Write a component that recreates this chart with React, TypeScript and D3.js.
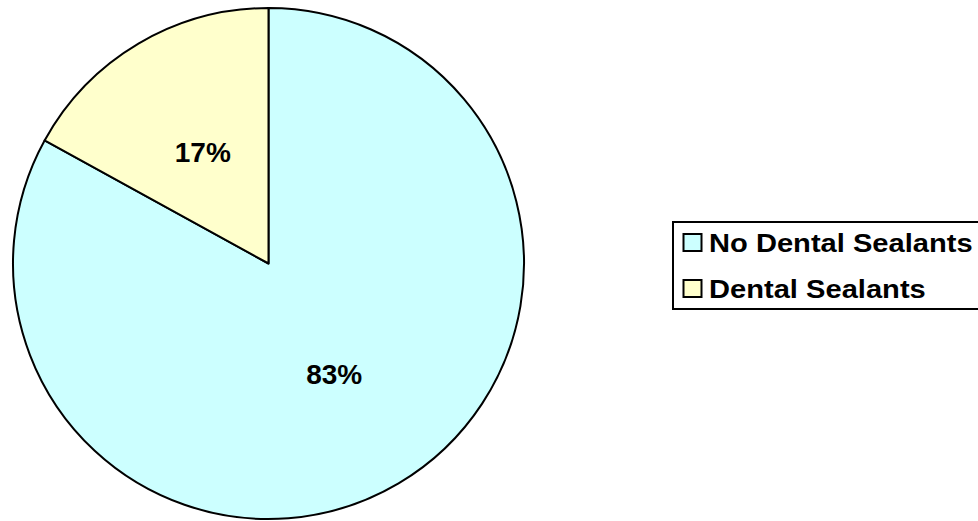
import React from "react";
import * as d3 from "d3";

const categories = ["No Dental Sealants", "Dental Sealants"];
const values = [83, 17];
const colors = ["#CCFFFF", "#FFFFCC"];

const W = 978;
const H = 521;
const cx = 268.5;
const cy = 263.5;
const radius = 255.5;

export default function App() {
  const pie = d3.pie<number>().sort(null).value((d) => d);
  const arcs = pie(values);
  const arcGen = d3.arc<d3.PieArcDatum<number>>().innerRadius(0).outerRadius(radius);
  const labelArc = d3.arc<d3.PieArcDatum<number>>().innerRadius(0).outerRadius(radius * 1.01);
  const total = d3.sum(values);

  return (
    <svg
      width={W}
      height={H}
      style={{ position: "absolute", left: 0, top: 0, fontFamily: "Liberation Sans, Arial, sans-serif" }}
    >
      <rect width={W} height={H} fill="#fff" />
      <g transform={`translate(${cx},${cy})`}>
        {arcs.map((a, i) => (
          <path key={i} d={arcGen(a) || ""} fill={colors[i]} stroke="#000" strokeWidth={2} strokeLinejoin="round" />
        ))}
        {arcs.map((a, i) => {
          const [x, y] = labelArc.centroid(a);
          return (
            <text key={i} x={x} y={y} textAnchor="middle" dominantBaseline="central" fontWeight="bold" fontSize={28}>
              {Math.round((a.data / total) * 100)}%
            </text>
          );
        })}
      </g>
      <g transform="translate(673,222)">
        <rect x={0} y={0} width={320} height={87} fill="#fff" stroke="#000" strokeWidth={2} />
        {categories.map((c, i) => (
          <g key={c} transform={`translate(0,${20.5 + i * 46})`}>
            <rect x={10.5} y={-8.5} width={18} height={17} fill={colors[i]} stroke="#000" strokeWidth={2} />
            <text
              transform="translate(36,0) scale(1.12,1)"
              x={0}
              y={1}
              dominantBaseline="central"
              fontWeight="bold"
              fontSize={26}
            >
              {c}
            </text>
          </g>
        ))}
      </g>
    </svg>
  );
}
